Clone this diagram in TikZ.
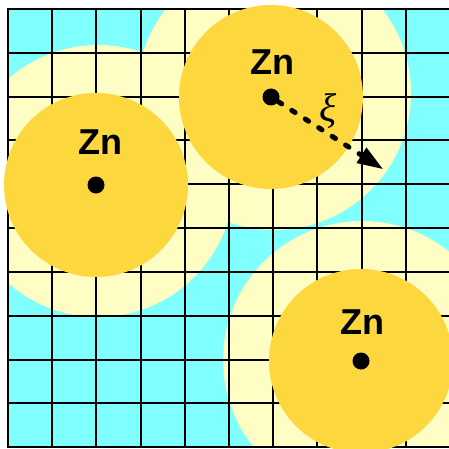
\documentclass[tikz,border=0pt]{standalone}
\usepackage{fontspec}
\setmainfont{Liberation Sans}
\newfontfamily\xifont{Liberation Serif}
\usetikzlibrary{arrows.meta}
\definecolor{znSea}{RGB}{128,255,255}
\definecolor{znHalo}{RGB}{253,253,196}
\definecolor{znCore}{RGB}{252,215,62}

\begin{document}
\begin{tikzpicture}[x=1pt,y=-1pt,
    halo/.style={fill=znHalo},
    core/.style={fill=znCore},
    site/.style={circle,fill=black,inner sep=0pt,minimum size=17pt},
    zlabel/.style={anchor=base,font=\fontsize{36}{36}\selectfont\bfseries},
    gridline/.style={line width=2pt}]
    \useasboundingbox (0,0) rectangle (448,449);
    % sea and halos, kept inside the frame
    \begin{scope}
      \clip (8,9) rectangle (450,447.3);
      \fill[znSea] (8,9) rectangle (450,447.3);
      \fill[halo] (98,181) circle[radius=136];
      \fill[halo] (274,93) circle[radius=137];
      \fill[halo] (362,360) circle[radius=139];
    \end{scope}
    % lattice
    \foreach \i in {0,...,10}{
      \draw[gridline] ({8+44.2*\i},8) -- ({8+44.2*\i},448.3);
      \draw[gridline] (7,{9+43.83*\i}) -- (450,{9+43.83*\i});
    }
    % zinc cores
    \fill[core] (96,185) circle[radius=92];
    \fill[core] (271,97) circle[radius=92];
    \fill[core] (361,361) circle[radius=92];
    \node[site] (zn1) at (96,185) {};
    \node[site] (zn2) at (271,97) {};
    \node[site] (zn3) at (361,361) {};
    \node[zlabel] (lab1) at (100,155) {Zn};
    \node[zlabel] (lab2) at (272.7,75) {Zn};
    \node[zlabel] (lab3) at (362,334) {Zn};
    % screening length
    \coordinate (reach) at (383.3,169.3);
    \draw[line width=5pt, dash pattern=on 4pt off 12pt, line cap=round,
      -{Triangle[length=26pt,width=17pt]}] (zn2) -- (reach);
    \node[font=\fontsize{40}{40}\selectfont\xifont\itshape] (xi) at (328,111) {ξ};
\end{tikzpicture}
\end{document}
